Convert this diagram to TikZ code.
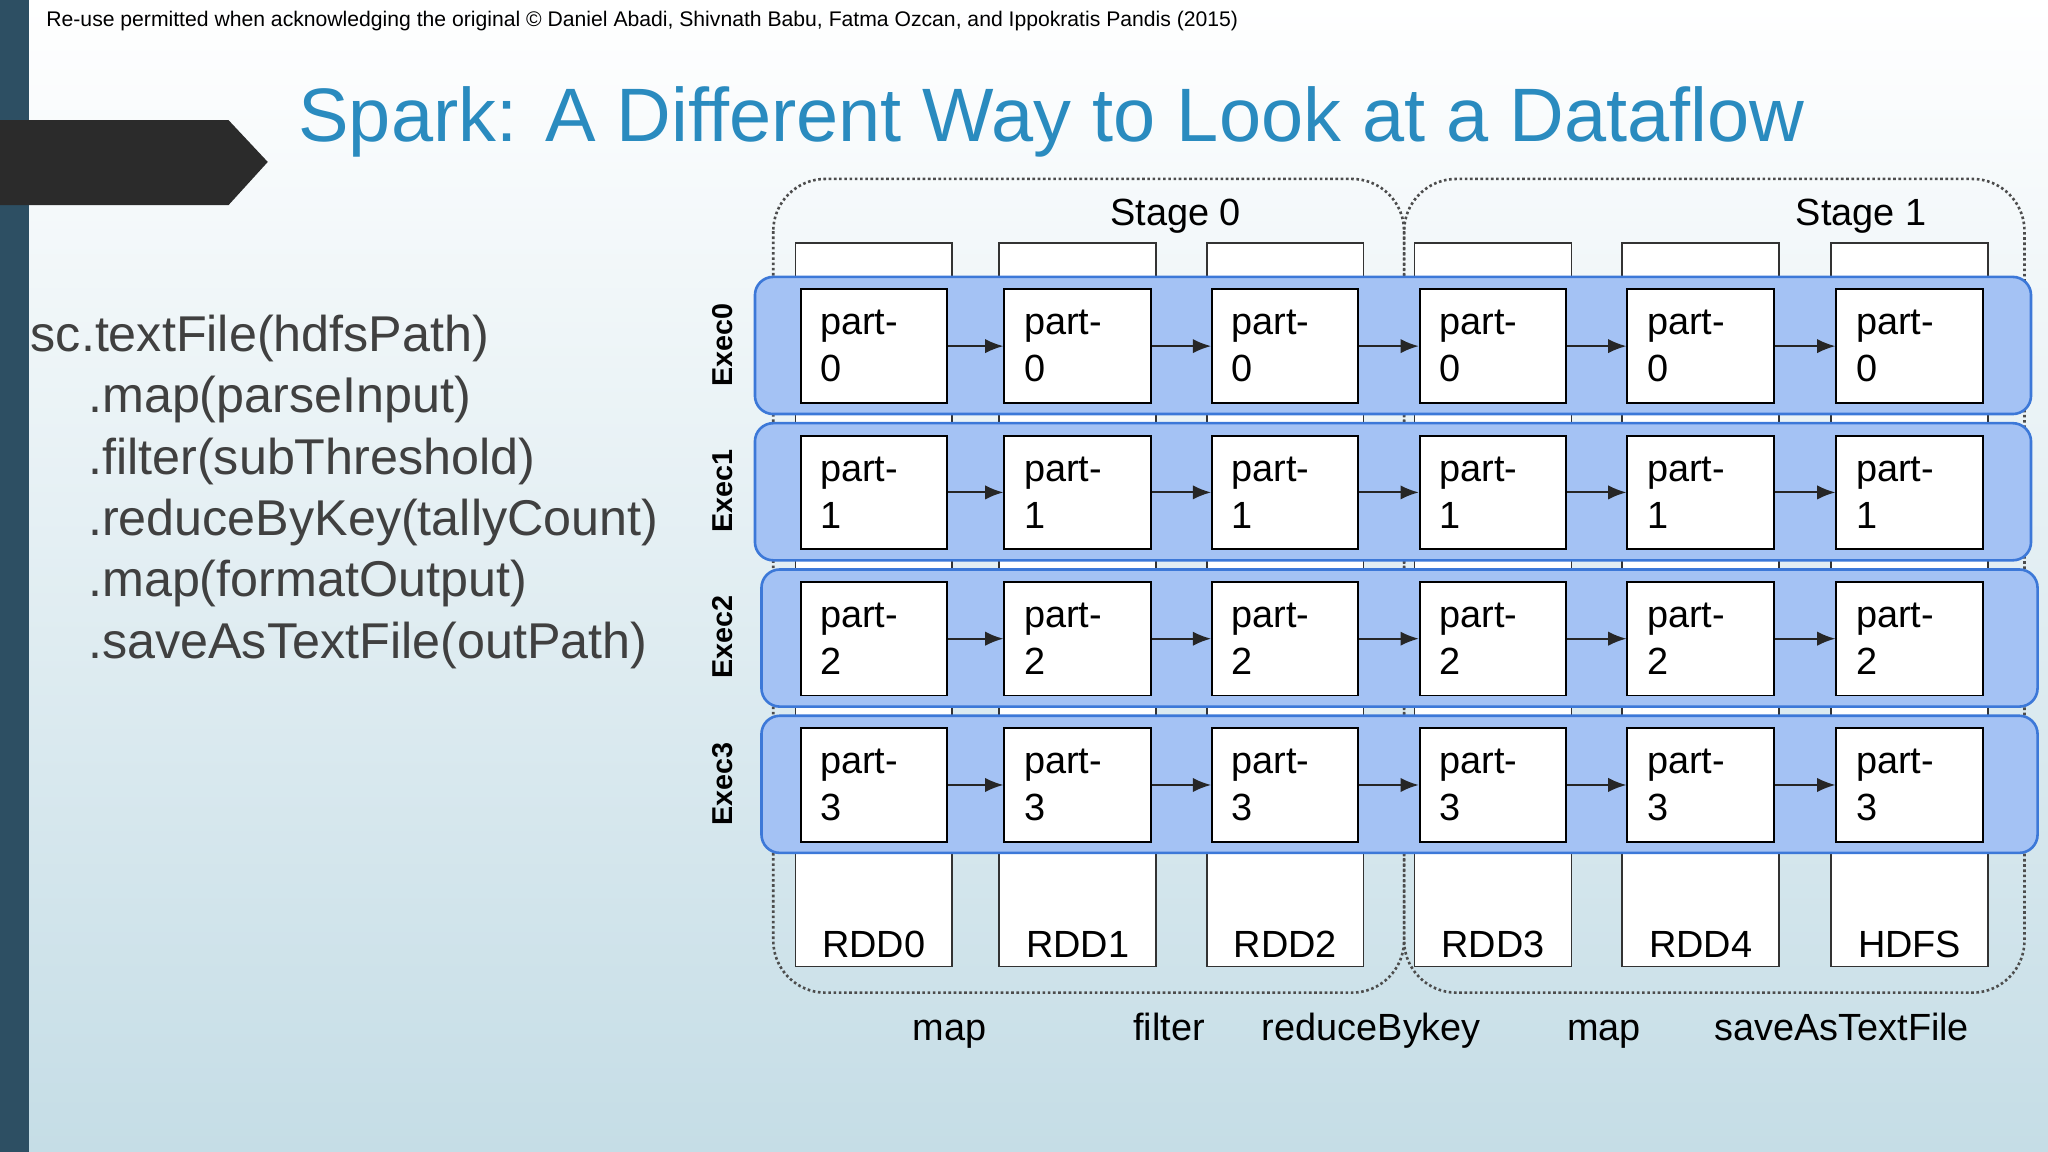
\documentclass[tikz,border=0pt]{standalone}
\usepackage{fontspec}
\setmainfont{Liberation Sans}
\usetikzlibrary{arrows.meta,calc}
\definecolor{cside}{RGB}{45,79,99}
\definecolor{carrow}{RGB}{43,43,43}
\definecolor{ctitle}{RGB}{42,139,191}
\definecolor{ccode}{RGB}{64,64,64}
\definecolor{crow}{RGB}{164,194,244}
\definecolor{crowline}{RGB}{60,120,216}
\definecolor{cbgbot}{RGB}{197,221,230}
\tikzset{
  partbox/.style={draw=black,line width=1.5pt,fill=white,minimum width=112pt,minimum height=87pt,
    inner sep=0pt,align=left,font=\fontsize{29}{36}\selectfont,text width=82pt},
  rddcol/.style={draw=black!80,line width=1.2pt,fill=white},
  execrow/.style={draw=crowline,line width=2pt,fill=crow,rounded corners=14pt},
  stagebox/.style={draw=black!70,dotted,line width=2pt,rounded corners=40pt},
  flow/.style={-{Latex[length=14pt,width=11pt]},line width=1.5pt,black!85},
  codeline/.style={anchor=west,color=ccode,font=\fontsize{38.5}{38.5}\selectfont},
  oplabel/.style={anchor=base,font=\fontsize{29}{29}\selectfont}
}
\begin{document}
\begin{tikzpicture}[x=1pt,y=-1pt]
\useasboundingbox (0,0) rectangle (1568,882);
\shade[top color=white,bottom color=cbgbot] (0,0) rectangle (1568,882);
\fill[cside] (0,0) rectangle (22,882);
\fill[carrow] (0,92) -- (175,92) -- (205,124) -- (175,157) -- (0,157) -- cycle;
\node[anchor=west,font=\fontsize{16.2}{16}\selectfont] (copy) at (32,16)
  {Re-use permitted when acknowledging the original \textcopyright{} Daniel Abadi, Shivnath Babu, Fatma Ozcan, and Ippokratis Pandis (2015)};
\node[color=ctitle,font=\fontsize{58}{58}\selectfont] (title) at (805,93) {Spark: A Different Way to Look at a Dataflow};
% code
\node[codeline] (c0) at (20,259) {sc.textFile(hdfsPath)};
\foreach \t [count=\i] in {.map(parseInput),.filter(subThreshold),.reduceByKey(tallyCount),.map(formatOutput),.saveAsTextFile(outPath)}
  \node[codeline] (c\i) at (64,259+47*\i) {\t};
% stages
\draw[stagebox] (592,137) rectangle (1075,760);
\draw[stagebox] (1075,137) rectangle (1550,760);
\node[oplabel] (s0) at (900,173) {Stage 0};
\node[oplabel] (s1) at (1425,173) {Stage 1};
% rdd columns
\foreach \x/\n [count=\c from 0] in {609/RDD0,765/RDD1,924/RDD2,1083/RDD3,1242/RDD4,1402/HDFS} {
  \draw[rddcol] (\x,186) rectangle (\x+120,740);
  \node[oplabel] (r\c) at (\x+60,733) {\n};
}
% executors
\foreach \r/\dx in {0/0,1/0,2/5,3/5} {
  \draw[execrow] (578+\dx,212+112*\r) rectangle (1555+\dx,317+112*\r);
  \node[rotate=90,font=\bfseries\fontsize{22}{22}\selectfont] (e\r) at (553,264+112*\r) {Exec\r};
  \foreach \x [count=\c from 0] in {613,769,928,1087,1246,1406}
    \node[partbox] (p\r\c) at (\x+56,265+112*\r) {part-\\\r};
  \foreach \c [count=\d from 1] in {0,...,4}
    \draw[flow] (p\r\c) -- (p\r\d);
}
% operations
\node[oplabel] (o1) at (727,797) {map};
\node[oplabel] (o2) at (895,797) {filter};
\node[oplabel] (o3) at (1050,797) {reduceBykey};
\node[oplabel] (o4) at (1228,797) {map};
\node[oplabel] (o5) at (1410,797) {saveAsTextFile};
\end{tikzpicture}
\end{document}
